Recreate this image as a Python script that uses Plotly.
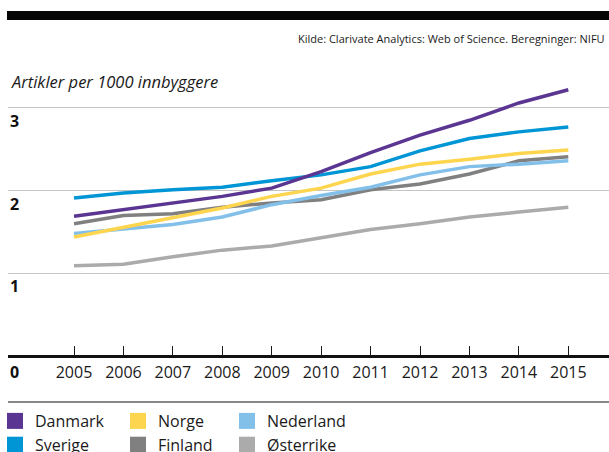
import plotly.graph_objects as go

years = list(range(2005, 2016))
danmark   = [1.69, 1.77, 1.84, 1.93, 2.03, 2.23, 2.46, 2.67, 2.85, 3.06, 3.22]
sverige   = [1.91, 1.97, 2.01, 2.04, 2.12, 2.19, 2.29, 2.48, 2.63, 2.71, 2.77]
norge     = [1.44, 1.56, 1.67, 1.79, 1.93, 2.03, 2.20, 2.32, 2.38, 2.45, 2.49]
nederland = [1.48, 1.54, 1.59, 1.68, 1.83, 1.94, 2.04, 2.19, 2.29, 2.32, 2.36]
finland   = [1.60, 1.70, 1.72, 1.80, 1.85, 1.89, 2.01, 2.08, 2.20, 2.36, 2.41]
osterrike = [1.09, 1.11, 1.20, 1.28, 1.33, 1.43, 1.53, 1.60, 1.68, 1.74, 1.80]
y_ticks = [0, 1, 2, 3]

W, H = 609, 452
PL, PR, PT, PB = 8, 609, 70, 356
PPU = 82.7  # pixels per unit
YMAX = (PB - PT) / PPU
X_STEP = 49.43
X0 = 74
XMIN = 2005 - (X0 - PL) / X_STEP
XMAX = 2015 + (PR - (X0 + 10 * X_STEP)) / X_STEP

def px(x):
    return (x - PL) / (PR - PL)

def py(y):
    return (PB - y) / (PB - PT)

FONT = "Open Sans"

series = [
    ("Danmark", danmark, "#5b3592", "legend"),
    ("Sverige", sverige, "#0096d6", "legend"),
    ("Norge", norge, "#fdd54e", "legend2"),
    ("Finland", finland, "#808080", "legend2"),
    ("Nederland", nederland, "#82c0ea", "legend3"),
    ("Østerrike", osterrike, "#ababab", "legend3"),
]
draw_order = ["Østerrike", "Finland", "Nederland", "Norge", "Sverige", "Danmark"]

fig = go.Figure()
lookup = {s[0]: s for s in series}
for name in draw_order:
    n, vals, col, lg = lookup[name]
    fig.add_trace(go.Scatter(x=years, y=vals, mode="lines", name=n,
                             line=dict(color=col, width=3.5), showlegend=False,
                             hoverinfo="x+y+name"))
for n, vals, col, lg in series:
    fig.add_trace(go.Scatter(x=[None], y=[None], mode="markers", name=n,
                             marker=dict(symbol="square", size=16, color=col),
                             legend=lg, showlegend=True))

leg_common = dict(orientation="v", xanchor="left", yanchor="top",
                  font=dict(family=FONT, size=16, color="#1a1a1a"),
                  bgcolor="rgba(0,0,0,0)", tracegroupgap=0, itemsizing="trace")

fig.update_layout(
    width=W, height=H,
    margin=dict(l=PL, r=W - PR, t=PT, b=H - PB, pad=0, autoexpand=False),
    paper_bgcolor="white", plot_bgcolor="white",
    font=dict(family=FONT, color="#1a1a1a"),
    xaxis=dict(range=[XMIN, XMAX], tickvals=years, ticktext=[str(y) for y in years],
               ticks="inside", ticklen=10, tickwidth=1, tickcolor="#1a1a1a",
               showgrid=False, zeroline=False, showline=False, automargin=False,
               ticklabelstandoff=5,
               tickfont=dict(family=FONT, size=16, color="#1a1a1a")),
    yaxis=dict(range=[0, YMAX], tickvals=y_ticks, showticklabels=False,
               showgrid=True, gridcolor="#c4c4c4", gridwidth=1, automargin=False,
               zeroline=True, zerolinecolor="#111111", zerolinewidth=3,
               showline=False, ticks=""),
    legend=dict(x=px(-5), y=py(404), **leg_common),
    legend2=dict(x=px(118), y=py(404), **leg_common),
    legend3=dict(x=px(227), y=py(404), **leg_common),
    showlegend=True,
)

# y-axis labels placed under their gridlines
for v in y_ticks:
    fig.add_annotation(x=0, xref="paper", y=v, yref="y", text=f"<b>{v}</b>",
                       showarrow=False, xanchor="left", yanchor="middle",
                       yshift=-16 if v == 0 else -13, xshift=0,
                       font=dict(family=FONT, size=16, color="#111111"))

# axis title
fig.add_annotation(x=px(9), xref="paper", y=py(81), yref="paper",
                   text="<i>Artikler per 1000 innbyggere</i>", showarrow=False,
                   xanchor="left", yanchor="middle",
                   font=dict(family=FONT, size=16.5, color="#1a1a1a"))
# source
fig.add_annotation(x=px(607), xref="paper", y=py(38), yref="paper",
                   text="Kilde: Clarivate Analytics: Web of Science. Beregninger: NIFU",
                   showarrow=False, xanchor="right", yanchor="middle",
                   font=dict(family=FONT, size=11, color="#1a1a1a"))

# top black bar
fig.add_shape(type="rect", xref="paper", yref="paper",
              x0=px(7), x1=px(609), y0=py(20), y1=py(11),
              fillcolor="#050505", line=dict(width=0), layer="above")
# separator line above legend
fig.add_shape(type="line", xref="paper", yref="paper",
              x0=px(8), x1=px(609), y0=py(402), y1=py(402),
              line=dict(color="#111111", width=1))

fig.write_html("out.html", config={"displayModeBar": False},
               post_script="document.body.style.margin='0';document.body.style.overflow='hidden';")
